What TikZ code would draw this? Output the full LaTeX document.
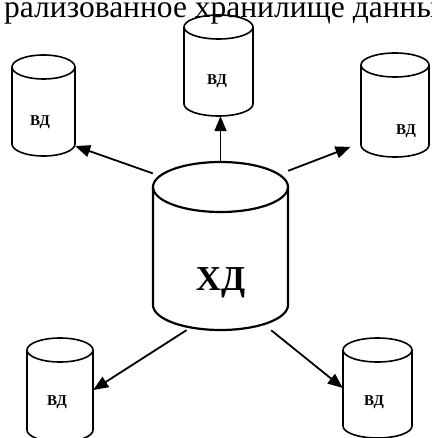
\documentclass[tikz,border=0pt]{standalone}
\usepackage{fontspec}
\setmainfont{Liberation Serif}
\usetikzlibrary{arrows.meta}

% Database cylinder: #1 name, #2 centre x, #3 top y, #4 bottom y,
% #5 x radius, #6 y radius of the end ellipses, #7 outline width
\newcommand{\dbcyl}[7]{%
  \draw[line width=#7] (#2,#3+#6) ellipse [x radius=#5, y radius=#6];
  \draw[line width=#7] (#2-#5,#3+#6) -- (#2-#5,#4-#6)
    arc [start angle=180, end angle=0, x radius=#5, y radius=#6]
    -- (#2+#5,#3+#6);
  \node[inner sep=0, minimum width={2*#5pt}, minimum height={(#4-#3)*1pt}]
    (#1) at (#2,{(#3+#4)/2}) {};
}

\tikzset{
  smalllabel/.style={anchor=base, inner sep=0, font=\bfseries\fontsize{15}{15}\selectfont},
  biglabel/.style={anchor=base, inner sep=0, font=\bfseries\fontsize{35}{35}\selectfont},
  feed/.style={line width=1.8pt, -{Triangle[length=15pt,width=12pt]}},
}

\begin{document}
\begin{tikzpicture}[x=1pt, y=-1pt]
  \useasboundingbox (0,0) rectangle (431,438);
  \clip (0,0) rectangle (431,438);
  \fill[white] (0,0) rectangle (431,438);

  % heading line of the page
  \node[anchor=base west, inner sep=0, font=\fontsize{31.5}{31.5}\selectfont]
    (title) at (4,17.5) {рализованное хранилище данных};

  % central data warehouse
  \dbcyl{c}{220.5}{162}{330}{67.5}{25}{2.2pt}
  \node[biglabel] (cl) at (220.5,290) {ХД};

  % data marts
  \dbcyl{t}{218.5}{15}{116}{34.5}{12}{1.6pt}
  \node[smalllabel] (tlab) at (217,85) {ВД};

  \dbcyl{tl}{43.5}{55}{156}{31.5}{12}{1.6pt}
  \node[smalllabel] (tllab) at (40,126) {ВД};

  \dbcyl{tr}{395}{53}{157}{34}{12}{1.6pt}
  \node[smalllabel] (trlab) at (406,135) {ВД};

  \dbcyl{bl}{60}{338}{442}{33}{12}{1.6pt}
  \node[smalllabel] (bllab) at (57,405) {ВД};

  \dbcyl{br}{377.5}{338}{438}{34.5}{12}{1.6pt}
  \node[smalllabel] (brlab) at (374,405) {ВД};

  % distribution arrows
  \draw[feed] (c.north) -- (c.north |- t.south);
  \draw[feed] (c.133) -- (tl.-52);
  \draw[feed, shorten >=11pt] (c.48) -- (tr.-132.6);
  \draw[feed] (c.-112) -- (bl.east);
  \draw[feed] (c.-59) -- (br.west);
\end{tikzpicture}
\end{document}
